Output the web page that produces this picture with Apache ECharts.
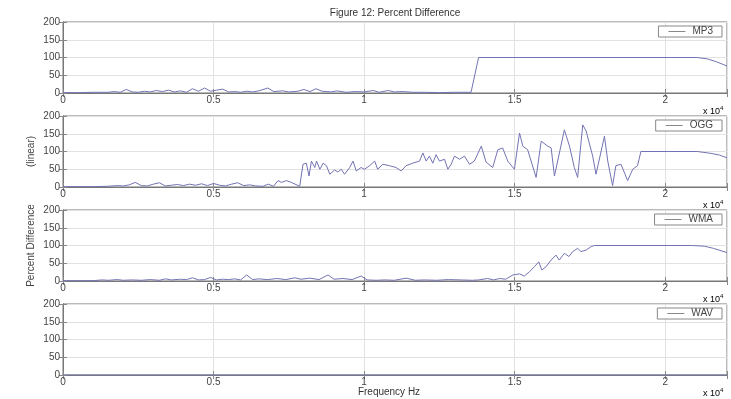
<!DOCTYPE html>
<html>
<head>
<meta charset="utf-8">
<script src="https://cdn.jsdelivr.net/npm/echarts@6/dist/echarts.min.js"></script>
<style>
  html, body { margin: 0; padding: 0; background: #fff; }
  #fig12 { width: 731px; height: 399px; }
</style>
</head>
<body>
<div id="fig12"></div>
<script>
// frequency (Hz) / percent difference pairs
const mp3Freq = [0, 500, 1000, 1500, 1700, 1900, 2100, 2300, 2500, 2700, 2900, 3100, 3300, 3500, 3700, 3900, 4100, 4300, 4500, 4700, 4900, 5100, 5300, 5500, 5700, 5900, 6100, 6300, 6500, 6800, 7000, 7300, 7500, 7800, 8000, 8200, 8400, 8600, 8900, 9100, 9400, 9700, 10000, 10300, 10500, 10800, 11000, 11300, 11600, 12000, 12500, 13000, 13550, 13800, 21050, 21400, 21700, 22050];
const mp3Pct  = [1, 1, 2, 2, 4, 2, 10, 3, 2, 5, 3, 7, 4, 8, 3, 6, 2, 12, 5, 14, 5, 8, 11, 3, 4, 2, 5, 3, 6, 14, 4, 6, 3, 5, 10, 4, 12, 5, 3, 6, 2, 4, 3, 7, 2, 7, 3, 4, 2, 2, 1, 2, 2, 100, 100, 96, 88, 76];

const oggFreq = [0, 1000, 1500, 1800, 2000, 2200, 2400, 2600, 2800, 3000, 3200, 3400, 3600, 3800, 4000, 4200, 4400, 4600, 4800, 5000, 5200, 5400, 5600, 5800, 6000, 6200, 6400, 6640, 6820, 6990, 7140, 7250, 7420, 7580, 7860, 7970, 8080, 8170, 8250, 8360, 8420, 8530, 8640, 8750, 8860, 9020, 9130, 9240, 9350, 9520, 9630, 9740, 9900, 10010, 10180, 10350, 10450, 10620, 10840, 11060, 11230, 11390, 11610, 11840, 11950, 12060, 12170, 12280, 12390, 12500, 12670, 12780, 12890, 13000, 13170, 13330, 13500, 13660, 13890, 14050, 14270, 14440, 14600, 14770, 14990, 15160, 15270, 15430, 15710, 15880, 16100, 16210, 16320, 16650, 16820, 16980, 17090, 17260, 17370, 17590, 17700, 17980, 18090, 18250, 18360, 18530, 18750, 18920, 19080, 19190, 21060, 21500, 21800, 22050];
const oggPct  = [1, 1, 2, 4, 3, 6, 13, 4, 3, 8, 12, 3, 5, 7, 4, 8, 5, 9, 4, 10, 5, 3, 8, 12, 4, 6, 3, 2, 8, 2, 18, 13, 18, 13, 2, 64, 67, 31, 73, 55, 73, 50, 67, 60, 36, 48, 42, 50, 36, 55, 73, 45, 55, 50, 60, 73, 50, 64, 60, 55, 45, 60, 67, 73, 96, 73, 87, 67, 91, 73, 78, 50, 64, 87, 78, 87, 64, 73, 115, 70, 55, 105, 110, 73, 50, 152, 115, 105, 27, 129, 115, 110, 31, 161, 115, 55, 27, 175, 158, 87, 36, 143, 73, 4, 60, 64, 18, 50, 60, 100, 100, 95, 90, 82];

const wmaFreq = [0, 1000, 1300, 1500, 1800, 2000, 2300, 2600, 2900, 3200, 3400, 3600, 3900, 4100, 4300, 4500, 4700, 4900, 5100, 5300, 5500, 5700, 5900, 6100, 6300, 6500, 6800, 7100, 7400, 7700, 7900, 8200, 8500, 8800, 9000, 9300, 9600, 9900, 10100, 10400, 10700, 11000, 11400, 11700, 12000, 12400, 12800, 13200, 13600, 13800, 14100, 14300, 14500, 14700, 14940, 15160, 15320, 15490, 15650, 15800, 15900, 16040, 16210, 16370, 16480, 16650, 16800, 16930, 17090, 17200, 17370, 17540, 17650, 20900, 21300, 21600, 22050];
const wmaPct  = [1, 1, 3, 2, 4, 2, 3, 2, 4, 2, 6, 3, 5, 4, 9, 3, 4, 10, 3, 5, 4, 6, 3, 17, 4, 6, 4, 7, 4, 9, 5, 8, 4, 17, 5, 7, 4, 14, 3, 2, 3, 2, 8, 2, 3, 2, 4, 3, 2, 3, 7, 3, 7, 5, 17, 20, 14, 26, 40, 54, 31, 40, 59, 73, 59, 78, 69, 83, 92, 83, 87, 97, 100, 100, 98, 92, 80];

const wavFreq = [0, 22050];
const wavPct  = [0, 0];

const names = ["MP3", "OGG", "WMA", "WAV"];
const xTicks = [0, 5000, 10000, 15000, 20000];
const yTicks = [0, 50, 100, 150, 200];

const panels = [[mp3Freq, mp3Pct], [oggFreq, oggPct], [wmaFreq, wmaPct], [wavFreq, wavPct]];
const tops = [22, 116, 210, 304];
const plotH = 71;
const font = "'Liberation Sans', Arial, sans-serif";

const zip = (xs, ys) => xs.map((x, i) => [x, ys[i]]);

const tickStyle = { inside: true, length: 4, lineStyle: { color: "#888" } };
const gridLine = { show: true, lineStyle: { color: "#e2e2e2" } };

// bottom/left axes carry labels, top/right copies only add the inner ticks
const xMain = tops.map((t, i) => ({
  type: "value", gridIndex: i, position: "bottom",
  min: 0, max: 22050, interval: 5000,
  axisLine: { lineStyle: { color: "#777" } },
  axisTick: tickStyle,
  axisLabel: {
    margin: 2, fontSize: 10, color: "#444", fontFamily: font,
    formatter: v => (xTicks.includes(v) ? String(v / 10000) : "")
  },
  splitLine: gridLine
}));
const xTop = tops.map((t, i) => ({
  type: "value", gridIndex: i, position: "top",
  min: 0, max: 22050, interval: 5000,
  axisLine: { lineStyle: { color: "#777" } },
  axisTick: tickStyle, axisLabel: { show: false }, splitLine: { show: false }
}));
const yMain = tops.map((t, i) => ({
  type: "value", gridIndex: i, position: "left",
  min: 0, max: 200, interval: 50,
  name: i === 1 ? "(linear)" : (i === 2 ? "Percent Difference" : ""),
  nameLocation: "middle", nameGap: 27, nameMoveOverlap: false,
  nameTextStyle: { fontSize: 10, color: "#444", fontFamily: font },
  axisLine: { show: true, lineStyle: { color: "#777" } },
  axisTick: Object.assign({ show: true }, tickStyle),
  axisLabel: {
    margin: 3, fontSize: 10, color: "#444", fontFamily: font,
    formatter: v => (yTicks.includes(v) ? String(v) : "")
  },
  splitLine: gridLine
}));
const yRight = tops.map((t, i) => ({
  type: "value", gridIndex: i, position: "right",
  min: 0, max: 200, interval: 50,
  axisLine: { show: true, lineStyle: { color: "#777" } },
  axisTick: Object.assign({ show: true }, tickStyle),
  axisLabel: { show: false }, splitLine: { show: false }
}));

const option = {
  animation: false,
  backgroundColor: "#fff",
  textStyle: { fontFamily: font },
  grid: tops.map(t => ({
    left: 63, right: 4, top: t, height: plotH,
    show: true, borderColor: "#777", borderWidth: 1
  })),
  xAxis: xMain.concat(xTop),
  yAxis: yMain.concat(yRight),
  legend: tops.map((t, i) => ({
    data: [names[i]],
    right: 9, top: t + 4,
    orient: "horizontal",
    backgroundColor: "#fff",
    borderColor: "#888", borderWidth: 1,
    padding: [0, 9, 0, 10],
    itemWidth: 17, itemHeight: 1, itemGap: 0,
    icon: "rect",
    itemStyle: { color: "#888" },
    textStyle: { fontSize: 10, color: "#444", fontFamily: font, lineHeight: 11, padding: [0, 0, 0, 2] },
    selectedMode: false
  })),
  series: panels.map((p, i) => ({
    name: names[i],
    type: "line",
    xAxisIndex: i, yAxisIndex: i,
    data: zip(p[0], p[1]),
    symbol: "none",
    lineStyle: { color: "#7373b3", width: 1 },
    itemStyle: { color: "#7373b3" }
  })),
  graphic: [
    {
      type: "text", x: 395, y: 13,
      style: { text: "Figure 12: Percent Difference", font: "10px " + font, fill: "#333", textAlign: "center", textVerticalAlign: "middle" }
    },
    {
      type: "text", x: 389, y: 392,
      style: { text: "Frequency Hz", font: "10px " + font, fill: "#333", textAlign: "center", textVerticalAlign: "middle" }
    }
  ].concat(tops.map(t => ({
    type: "text", x: 703, y: t + plotH + 18,
    style: {
      text: "{a|x 10}{b|4}",
      textVerticalAlign: "middle",
      rich: {
        a: { fontSize: 9, fontFamily: font, color: "#333", lineHeight: 11, verticalAlign: "bottom" },
        b: { fontSize: 6, fontFamily: font, color: "#333", lineHeight: 11, verticalAlign: "top" }
      }
    }
  })))
};

const chart = echarts.init(document.getElementById("fig12"));
chart.setOption(option);
window.addEventListener("resize", () => chart.resize());
</script>
</body>
</html>
